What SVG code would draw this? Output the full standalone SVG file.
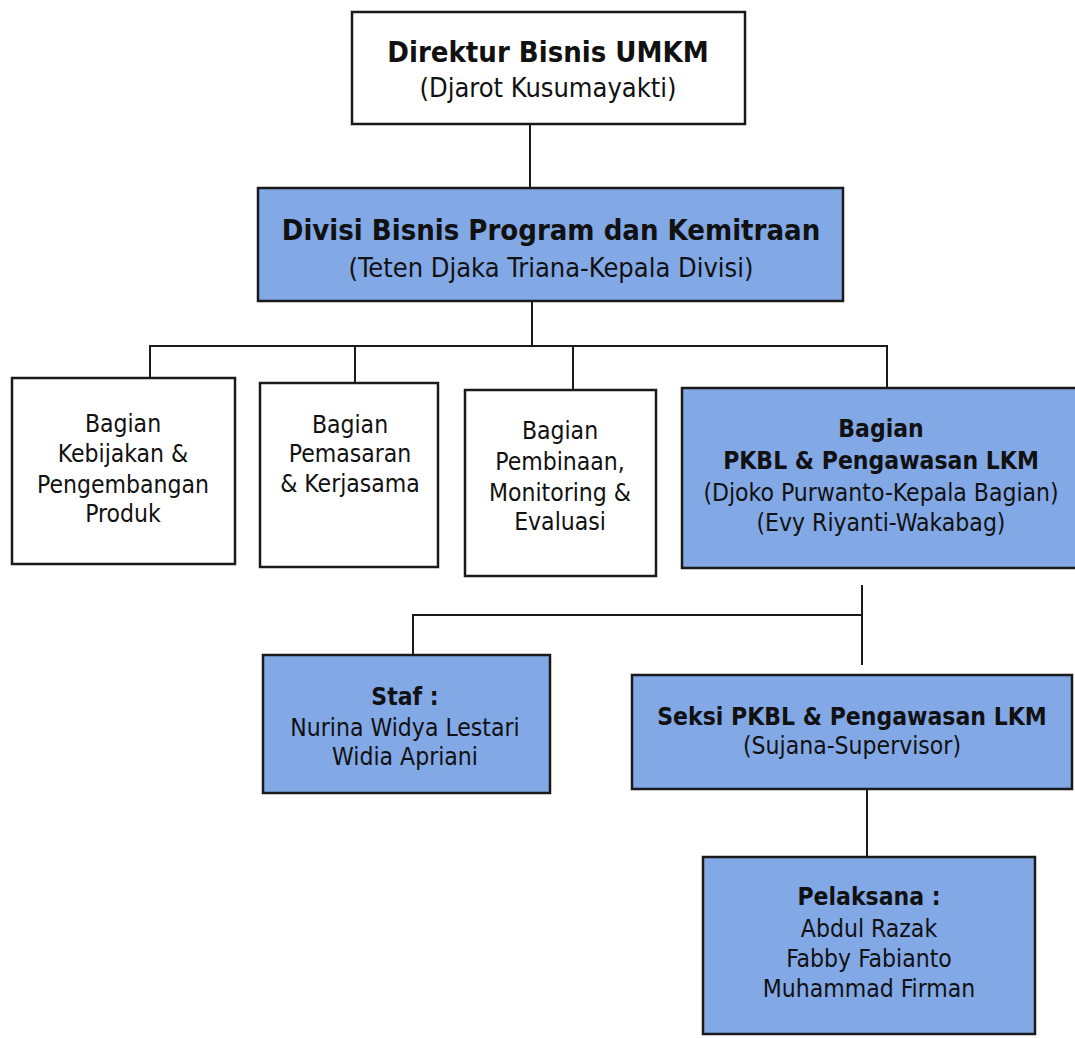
<svg xmlns="http://www.w3.org/2000/svg" width="1075" height="1038" viewBox="0 0 1075 1038">
<style>
.box{stroke:#1a1a1a;stroke-width:2.5}
.w{fill:#ffffff}
.b{fill:#82a8e6}
text{font-family:"DejaVu Sans","Verdana",sans-serif;fill:#111;text-anchor:middle;font-stretch:condensed}
.t{font-size:24.5px}
.bd{font-weight:bold}
.big{font-size:29px}
.mid{font-size:27px}
.con{stroke:#1a1a1a;stroke-width:2;fill:none}
</style>
<rect width="1075" height="1038" fill="#ffffff"/>
<g id="connectors">
<line class="con" x1="530" y1="124" x2="530" y2="188"/>
<line class="con" x1="532" y1="301" x2="532" y2="346"/>
<polyline class="con" points="150,378 150,346 887,346 887,388"/>
<line class="con" x1="355" y1="346" x2="355" y2="383"/>
<line class="con" x1="573" y1="346" x2="573" y2="390"/>
<line class="con" x1="862" y1="585" x2="862" y2="665"/>
<polyline class="con" points="413,655 413,615 862,615"/>
<line class="con" x1="867" y1="789" x2="867" y2="857"/>
</g>
<g id="n-direktur">
<rect class="box w" x="352" y="12" width="393" height="112"/>
<text class="big bd" x="548" y="62">Direktur Bisnis UMKM</text>
<text class="mid" x="548" y="97">(Djarot Kusumayakti)</text>
</g>
<g id="n-divisi">
<rect class="box b" x="258" y="188" width="585" height="113"/>
<text class="big bd" x="551" y="240">Divisi Bisnis Program dan Kemitraan</text>
<text class="mid" x="551" y="277">(Teten Djaka Triana-Kepala Divisi)</text>
</g>
<g id="n-kebijakan">
<rect class="box w" x="12" y="378" width="223" height="186"/>
<text class="t" x="123" y="432">Bagian</text>
<text class="t" x="123" y="462">Kebijakan &amp;</text>
<text class="t" x="123" y="493">Pengembangan</text>
<text class="t" x="123" y="522">Produk</text>
</g>
<g id="n-pemasaran">
<rect class="box w" x="260" y="383" width="178" height="184"/>
<text class="t" x="350" y="433">Bagian</text>
<text class="t" x="350" y="462">Pemasaran</text>
<text class="t" x="350" y="492">&amp; Kerjasama</text>
</g>
<g id="n-pembinaan">
<rect class="box w" x="465" y="390" width="191" height="186"/>
<text class="t" x="560" y="439">Bagian</text>
<text class="t" x="560" y="470">Pembinaan,</text>
<text class="t" x="560" y="501">Monitoring &amp;</text>
<text class="t" x="560" y="530">Evaluasi</text>
</g>
<g id="n-pkbl">
<rect class="box b" x="682" y="388" width="400" height="180"/>
<text class="t bd" x="881" y="437">Bagian</text>
<text class="t bd" x="881" y="469">PKBL &amp; Pengawasan LKM</text>
<text class="t" x="881" y="501">(Djoko Purwanto-Kepala Bagian)</text>
<text class="t" x="881" y="531">(Evy Riyanti-Wakabag)</text>
</g>
<g id="n-staf">
<rect class="box b" x="263" y="655" width="287" height="138"/>
<text class="t bd" x="405" y="705">Staf :</text>
<text class="t" x="405" y="736">Nurina Widya Lestari</text>
<text class="t" x="405" y="765">Widia Apriani</text>
</g>
<g id="n-seksi">
<rect class="box b" x="632" y="675" width="440" height="114"/>
<text class="t bd" x="852" y="725">Seksi PKBL &amp; Pengawasan LKM</text>
<text class="t" x="852" y="754">(Sujana-Supervisor)</text>
</g>
<g id="n-pelaksana">
<rect class="box b" x="703" y="857" width="332" height="177"/>
<text class="t bd" x="869" y="905">Pelaksana :</text>
<text class="t" x="869" y="937">Abdul Razak</text>
<text class="t" x="869" y="967">Fabby Fabianto</text>
<text class="t" x="869" y="997">Muhammad Firman</text>
</g>
</svg>
